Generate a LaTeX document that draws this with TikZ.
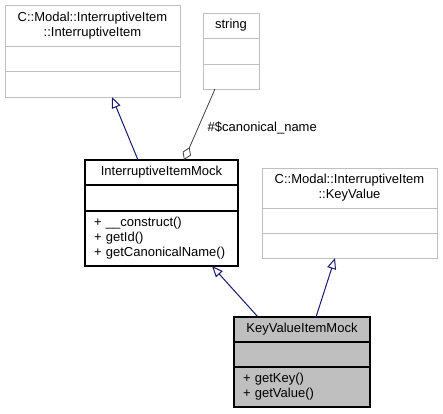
\documentclass[tikz,border=0pt]{standalone}
\usepackage{fontspec}
\setmainfont{Liberation Sans}
\usetikzlibrary{arrows.meta}
\definecolor{boxgrey}{HTML}{BFBFBF}
\definecolor{mockfill}{HTML}{BFBFBF}
\definecolor{inheritblue}{HTML}{191970}
\definecolor{usagegrey}{HTML}{404040}

\begin{document}
\begin{tikzpicture}[x=1pt, y=-1pt, font=\fontsize{13}{15}\selectfont]
        \useasboundingbox (0,0) rectangle (443,413);
        \tikzstyle{Part} = [draw, inner sep=0pt, outer sep=0pt, anchor=north west, line width=1pt]
        \tikzstyle{Ext} = [Part, draw=boxgrey, fill=white]
        \tikzstyle{Own} = [Part, draw=black, fill=white, line width=1.2pt]
        \tikzstyle{Self} = [Own, fill=mockfill]
        \tikzstyle{Ops} = [align=left, inner xsep=9pt]
        \tikzstyle{Inherit} = [draw=inheritblue, line width=1pt, -{Triangle[open, length=11pt, width=9pt]}]
        \tikzstyle{Member} = [draw=usagegrey, line width=0.8pt, -{Diamond[open, length=14pt, width=9pt]}]
        % string
        \node[Ext, minimum width=56pt, minimum height=25pt] (strTitle) at (203,13) {s{}tring};
        \node[Ext, minimum width=56pt, minimum height=26pt] (strAttr) at (strTitle.south west) {};
        \node[Ext, minimum width=56pt, minimum height=25pt] (strOps) at (strAttr.south west) {};
        % C::Modal::InterruptiveItem::InterruptiveItem
        \node[Ext, minimum width=175pt, minimum height=41pt, align=center] (baseTitle) at (5,5) {C::Modal::InterruptiveItem\\::InterruptiveItem};
        \node[Ext, minimum width=175pt, minimum height=25pt] (baseAttr) at (baseTitle.south west) {};
        \node[Ext, minimum width=175pt, minimum height=26pt] (baseOps) at (baseAttr.south west) {};
        % InterruptiveItemMock
        \node[Own, minimum width=153pt, minimum height=25pt] (mockTitle) at (85,160) {InterruptiveItemMock};
        \node[Own, minimum width=153pt, minimum height=26pt] (mockAttr) at (mockTitle.south west) {};
        \node[Own, Ops, text width=135pt, minimum height=55pt] (mockOps) at (mockAttr.south west) {+ \_\_construct()\\+ getId()\\+ getCanonicalName()};
        % C::Modal::InterruptiveItem::KeyValue
        \node[Ext, minimum width=175pt, minimum height=40pt, align=center] (kvTitle) at (262,168) {C::Modal::InterruptiveItem\\::KeyValue};
        \node[Ext, minimum width=175pt, minimum height=25pt] (kvAttr) at (kvTitle.south west) {};
        \node[Ext, minimum width=175pt, minimum height=25pt] (kvOps) at (kvAttr.south west) {};
        % KeyValueItemMock
        \node[Self, minimum width=136pt, minimum height=25pt] (selfTitle) at (234,317) {KeyValueItemMock};
        \node[Self, minimum width=136pt, minimum height=25pt] (selfAttr) at (selfTitle.south west) {};
        \node[Self, Ops, text width=118pt, minimum height=40pt] (selfOps) at (selfAttr.south west) {+ getKey()\\+ getValue()};
        % relations
        \draw[Inherit] ([xshift=53pt]mockTitle.north west) -- ([xshift=107pt]baseOps.south west);
        \draw[Member] ([xshift=12pt]strOps.south west) -- node[pos=0.55, anchor=west, xshift=6pt] (canonLabel) {\#\$canonical\_name} ([xshift=99pt]mockTitle.north west);
        \draw[Inherit] ([xshift=24pt]selfTitle.north west) -- ([xshift=127pt]mockOps.south west);
        \draw[Inherit] ([xshift=82pt]selfTitle.north west) -- ([xshift=73pt]kvOps.south west);
    \end{tikzpicture}
\end{document}
